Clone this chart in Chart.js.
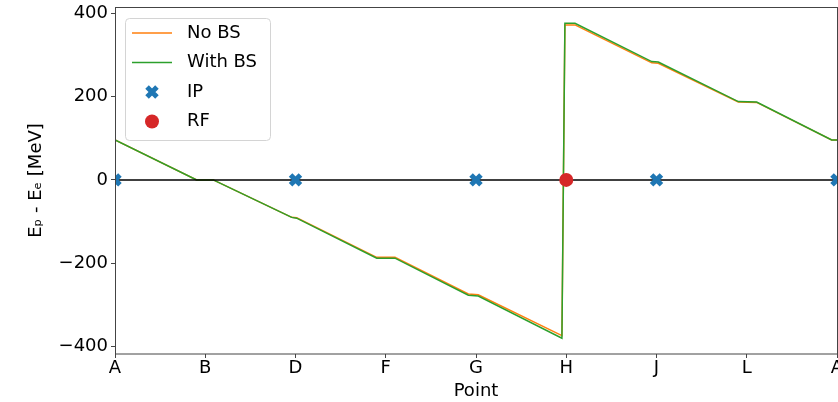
<!DOCTYPE html>
<html>
<head>
<meta charset="utf-8">
<script src="https://cdn.jsdelivr.net/npm/chart.js@4.4.1/dist/chart.umd.min.js"></script>
<style>
  html, body { margin: 0; padding: 0; background: #fff; overflow: hidden; }
  #wrap { width: 838px; height: 402px; position: relative; }
</style>
</head>
<body>
<div id="wrap"><canvas id="chart"></canvas></div>
<script>
// Point names along the ring (tick labels at 0..8)
const pointNames = ['A', 'B', 'D', 'F', 'G', 'H', 'J', 'L', 'A'];
// Path positions (in units of point index) where the curves bend
const pathPos = [0, 0.905, 1.089, 1.958, 2.013, 2.9, 3.102, 3.915, 4.025, 4.952, 4.985, 5.097, 5.947, 6.02, 6.906, 7.11, 7.941, 8];
const noBS = [96, 0, 0, -90, -91, -186, -186, -274, -276, -374, 372, 372, 281, 280, 187, 186, 96, 96];
const withBS = [96, 0, 0, -90, -92, -188, -188, -277, -279, -380, 376, 376, 284, 283, 188, 187, 96, 96];
const ipPos = [0, 2, 4, 6, 8];
const rfPos = [5];
const yTicks = [-400, -200, 0, 200, 400];

const FONT = 'DejaVu Sans';
const toXY = (xs, ys) => xs.map((x, i) => ({ x, y: ys[i] }));

const legendBox = {
  id: 'legendBox',
  afterDatasetsDraw(chart) {
    const { ctx, chartArea } = chart;
    // spines
    ctx.save();
    ctx.strokeStyle = '#444';
    ctx.lineWidth = 1;
    ctx.strokeRect(chartArea.left + 0.5, chartArea.top + 0.5,
      chartArea.right - chartArea.left, chartArea.bottom - chartArea.top - 0.5);

    const x0 = chartArea.left + 10;
    const y0 = chartArea.top + 11;
    ctx.fillStyle = 'rgba(255,255,255,0.8)';
    ctx.strokeStyle = '#d4d4d4';
    ctx.beginPath();
    ctx.roundRect(x0 + 0.5, y0 + 0.5, 145, 122, 4);
    ctx.fill();
    ctx.stroke();

    const items = chart.data.datasets.filter((d) => d.inLegend);
    items.forEach((d, i) => {
      const y = y0 + 15 + i * 29.5;
      if (d.showLine) {
        ctx.strokeStyle = d.borderColor;
        ctx.lineWidth = d.borderWidth;
        ctx.beginPath();
        ctx.moveTo(x0 + 7, y);
        ctx.lineTo(x0 + 47, y);
        ctx.stroke();
      } else {
        ctx.fillStyle = d.backgroundColor;
        ctx.strokeStyle = d.borderColor;
        ctx.lineWidth = d.borderWidth;
        Chart.helpers.drawPoint(ctx, {
          pointStyle: d.pointStyle,
          radius: d.pointRadius,
          borderWidth: d.borderWidth,
          rotation: 0,
        }, x0 + 27, y);
      }
      ctx.fillStyle = '#000';
      ctx.font = '18px "' + FONT + '"';
      ctx.textBaseline = 'middle';
      ctx.textAlign = 'left';
      ctx.fillText(d.label, x0 + 62, y);
    });
    ctx.restore();
  },
};

const ctx = document.getElementById('chart').getContext('2d');

new Chart(ctx, {
  type: 'scatter',
  data: {
    datasets: [
      {
        label: 'No BS',
        inLegend: true,
        data: toXY(pathPos, noBS),
        showLine: true,
        borderColor: '#ff7f0e',
        backgroundColor: '#ff7f0e',
        borderWidth: 1.5,
        pointRadius: 0,
        order: 5,
      },
      {
        label: 'With BS',
        inLegend: true,
        data: toXY(pathPos, withBS),
        showLine: true,
        borderColor: '#2ca02c',
        backgroundColor: '#2ca02c',
        borderWidth: 1.5,
        pointRadius: 0,
        order: 4,
      },
      {
        label: 'zero',
        data: [{ x: 0, y: 0 }, { x: 8, y: 0 }],
        showLine: true,
        borderColor: '#000',
        borderWidth: 1.5,
        pointRadius: 0,
        order: 3,
      },
      {
        label: 'IP',
        inLegend: true,
        data: ipPos.map((x) => ({ x, y: 0 })),
        pointStyle: 'crossRot',
        pointRadius: 7,
        borderWidth: 5,
        borderColor: '#1f77b4',
        backgroundColor: '#1f77b4',
        clip: 0,
        order: 2,
      },
      {
        label: 'RF',
        inLegend: true,
        data: rfPos.map((x) => ({ x, y: 0 })),
        pointStyle: 'circle',
        pointRadius: 7,
        borderWidth: 0,
        borderColor: '#d62728',
        backgroundColor: '#d62728',
        clip: 0,
        order: 1,
      },
    ],
  },
  options: {
    responsive: true,
    maintainAspectRatio: false,
    animation: false,
    layout: {
      autoPadding: false,
      padding: { left: 0, right: 1, top: 7, bottom: 0 },
    },
    plugins: {
      legend: { display: false },
      tooltip: { enabled: false },
    },
    scales: {
      x: {
        type: 'linear',
        min: 0,
        max: 8,
        afterBuildTicks: (scale) => {
          scale.ticks = pointNames.map((_, i) => ({ value: i }));
        },
        afterFit: (scale) => {
          scale.height = 48;
          scale.paddingLeft = 0;
          scale.paddingRight = 0;
        },
        ticks: {
          autoSkip: false,
          maxRotation: 0,
          padding: 0,
          color: '#000',
          font: { family: FONT, size: 18 },
          callback: (v) => pointNames[v],
        },
        grid: {
          drawOnChartArea: false,
          drawTicks: true,
          tickLength: 4,
          color: '#444',
        },
        border: { display: false },
        title: {
          display: true,
          text: 'Point',
          color: '#000',
          font: { family: FONT, size: 18 },
          padding: { top: 0, bottom: 0 },
        },
      },
      y: {
        min: -418,
        max: 415,
        afterBuildTicks: (scale) => {
          scale.ticks = yTicks.map((v) => ({ value: v }));
        },
        afterFit: (scale) => {
          scale.width = 115;
          scale.paddingTop = 0;
          scale.paddingBottom = 0;
        },
        ticks: {
          padding: 3,
          color: '#000',
          font: { family: FONT, size: 18 },
          callback: (v) => (v < 0 ? '\u2212' + Math.abs(v) : String(v)),
        },
        grid: {
          drawOnChartArea: false,
          drawTicks: true,
          tickLength: 4,
          color: '#444',
        },
        border: { display: false },
        title: {
          display: true,
          text: 'E\u209A - E\u2091 [MeV]',
          color: '#000',
          font: { family: FONT, size: 18 },
          padding: { top: 26, bottom: 0 },
        },
      },
    },
  },
  plugins: [legendBox],
});
</script>
</body>
</html>
